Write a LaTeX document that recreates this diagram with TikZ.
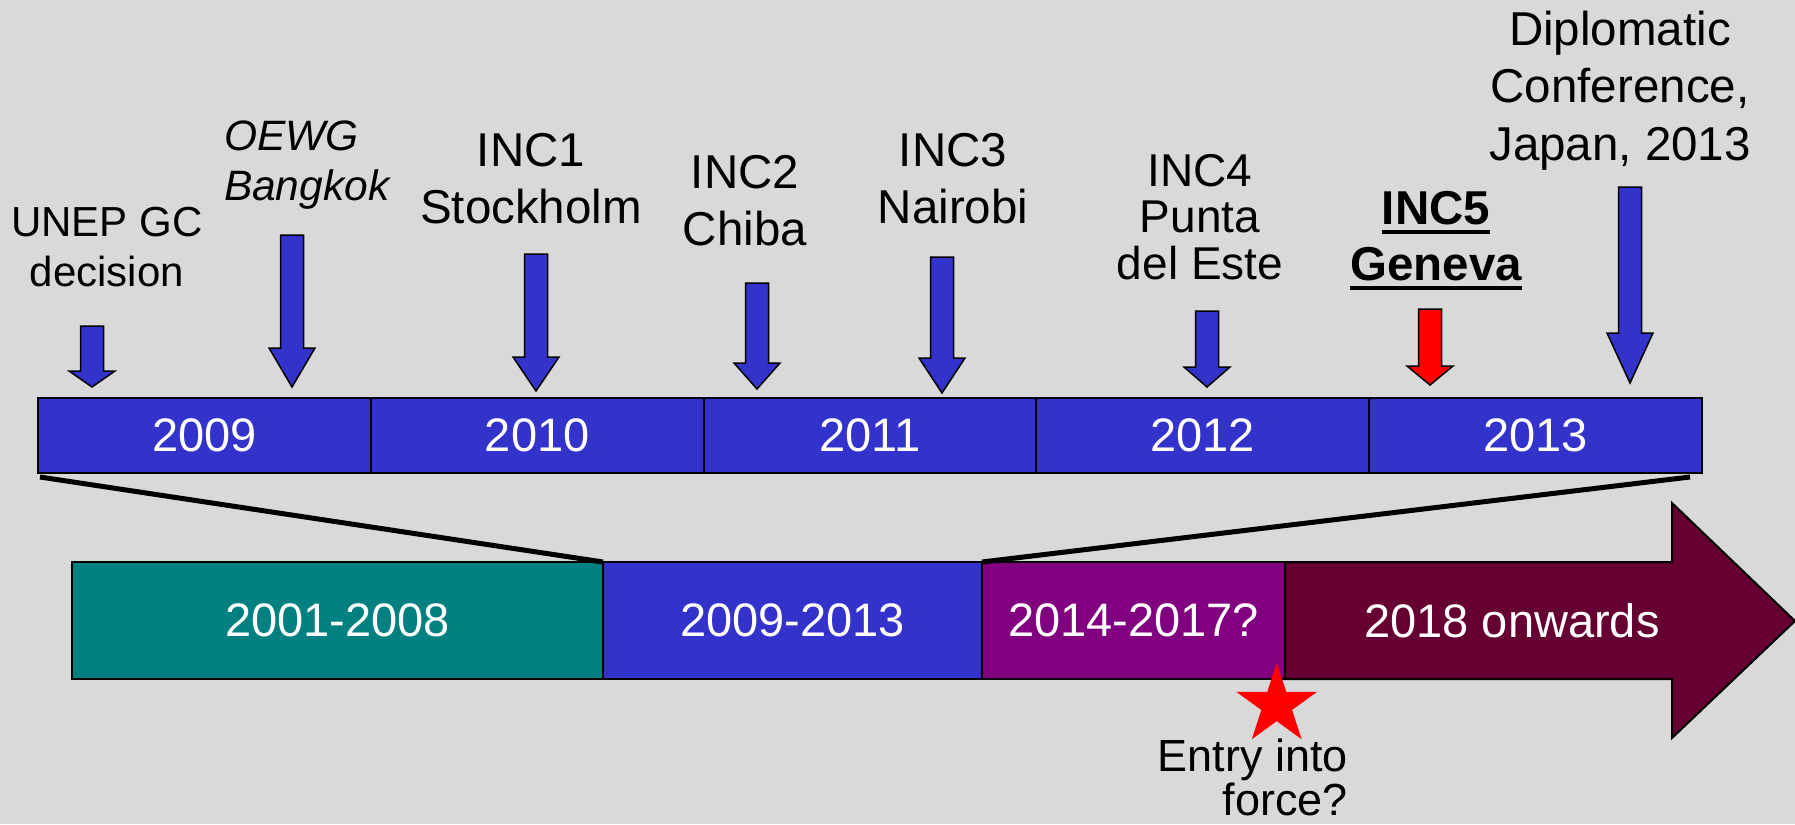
\documentclass[tikz,border=0pt]{standalone}
\usepackage{fontspec}
\setmainfont{Liberation Sans}
\usetikzlibrary{shapes.geometric}
\definecolor{bg}{HTML}{D9D9D9}
\definecolor{tlblue}{HTML}{3333CC}
\definecolor{tlteal}{HTML}{008080}
\definecolor{tlpurple}{HTML}{800080}
\definecolor{tlmaroon}{HTML}{660033}
\newcommand\myul[1]{\setbox0\hbox{#1}\rlap{\rule[-9.5pt]{\wd0}{3.7pt}}\box0}
\newcommand\darr[5][tlblue]{%
  \draw[blockarrow, fill=#1] (#2-11.5,#3) -- (#2+11.5,#3) -- (#2+11.5,#4) -- (#2+23,#4)
    -- (#2,#5) -- (#2-23,#4) -- (#2-11.5,#4) -- cycle;}
\tikzset{
  blockarrow/.style={draw=black, line width=1.5pt, line join=miter},
  yearbox/.style={draw=black, line width=2pt, fill=tlblue, anchor=north west,
    minimum width=332.8pt, minimum height=75pt, inner sep=0pt, outer sep=0pt,
    text=white, font=\fontsize{47}{54}\selectfont},
  erabox/.style={draw=black, line width=2pt, anchor=north west,
    minimum height=117pt, inner sep=0pt, outer sep=0pt,
    text=white, font=\fontsize{47}{54}\selectfont},
  lbl/.style={inner sep=0pt, outer sep=0pt, align=center, text=black},
  zoomline/.style={draw=black, line width=5pt},
}
\begin{document}
\begin{tikzpicture}[x=1pt,y=-1pt]
\path[use as bounding box, fill=bg] (0,0) rectangle (1795,824);

% top timeline
\foreach \yr [count=\i from 0] in {2009,2010,2011,2012,2013}
  \node[yearbox] (y\yr) at ({38+332.8*\i},398) {\yr};

% event arrows
\darr{92}{326}{371}{387}
\darr{292}{235}{348}{387}
\darr{536}{254}{357}{391}
\darr{757}{283}{363}{389}
\darr{942}{257}{358}{393}
\darr{1207}{311}{367}{387}
\darr[red]{1430}{309}{366}{385}
\darr{1630}{187}{333}{383}

% event labels (anchored at the baseline of the last line)
\node[lbl, anchor=base, font=\fontsize{42}{50}\selectfont] (l1) at (107,286) {UNEP GC\\decision};
\node[lbl, anchor=base west, align=left, font=\fontsize{42.5}{50}\selectfont\itshape] (l2) at (224,200) {OEWG\\Bangkok};
\node[lbl, anchor=base, font=\fontsize{47.5}{56.5}\selectfont] (l3) at (531,223.3) {INC1\\Stockholm};
\node[lbl, anchor=base, font=\fontsize{47.5}{57}\selectfont] (l4) at (745,245) {INC2\\Chiba};
\node[lbl, anchor=base, font=\fontsize{47.5}{56.5}\selectfont] (l5) at (953,223.3) {INC3\\Nairobi};
\node[lbl, anchor=base, font=\fontsize{46}{46.5}\selectfont] (l6) at (1200,279.3) {INC4\\Punta\\del Este};
\node[lbl, anchor=base, font=\fontsize{47.5}{56}\selectfont\bfseries] (l7) at (1436,280) {\myul{INC5}\\\myul{Geneva}};
\node[lbl, anchor=base, font=\fontsize{47.5}{57.5}\selectfont] (l8) at (1620,160) {Diplomatic\\Conference,\\Japan, 2013};

% bottom eras
\node[erabox, fill=tlteal, minimum width=531pt] (b1) at (72,562) {2001-2008};
\node[erabox, fill=tlblue, minimum width=379pt] (b2) at (603,562) {2009-2013};
\node[erabox, fill=tlpurple, minimum width=303pt] (b3) at (982,562) {2014-2017?};
\draw[draw=black, line width=2pt, fill=tlmaroon, line join=miter]
  (1285,562) -- (1672,562) -- (1672,503) -- (1795,621) -- (1672,738) -- (1672,679) -- (1285,679) -- cycle;
\node[inner sep=0pt, text=white, font=\fontsize{47}{54}\selectfont] (b4) at (1512,621) {2018 onwards};

% zoom lines
\draw[zoomline] ([shift={(2,4)}]y2009.south west) -- (b2.north west);
\draw[zoomline] (b2.north east) -- ([shift={(-12,4)}]y2013.south east);

% entry into force
\node[star, star points=5, star point ratio=2.618, fill=red, minimum size=84.6pt, inner sep=0pt] (star) at (1276.7,705) {};
\node[lbl, anchor=base east, align=right, font=\fontsize{45}{44}\selectfont] (eif) at (1348,815.5) {Entry into\\force?};
\end{tikzpicture}
\end{document}
